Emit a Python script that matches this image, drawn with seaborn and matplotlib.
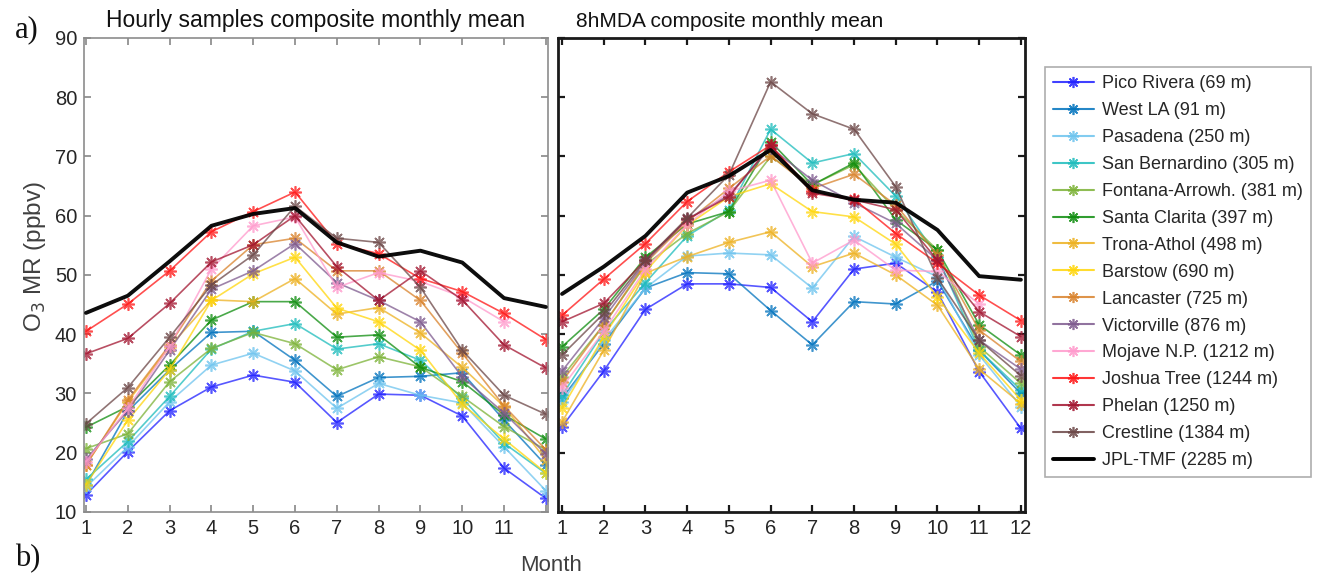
import numpy as np
import pandas as pd
import matplotlib
matplotlib.use("Agg")
import matplotlib.pyplot as plt
from matplotlib.lines import Line2D
import seaborn as sns

months = list(range(1, 13))

stations = [
    "Pico Rivera (69 m)", "West LA (91 m)", "Pasadena (250 m)",
    "San Bernardino (305 m)", "Fontana-Arrowh. (381 m)", "Santa Clarita (397 m)",
    "Trona-Athol (498 m)", "Barstow (690 m)", "Lancaster (725 m)",
    "Victorville (876 m)", "Mojave N.P. (1212 m)", "Joshua Tree (1244 m)",
    "Phelan (1250 m)", "Crestline (1384 m)", "JPL-TMF (2285 m)",
]

colors = [
    "#1f1fff", "#0072BD", "#6cc3ee", "#1cbcbc", "#7bb236", "#0d8c0d",
    "#EDB120", "#FFD60A", "#D9822B", "#7E5A8E", "#FF99CC", "#FF1414",
    "#A2142F", "#6B4646", "#000000",
]

nan = np.nan

# Hourly samples, composite monthly mean (ppbv)
hourly_pico_rivera = [12.9, 20.2, 27.1, 31.1, 33.1, 31.9, 25.1, 29.9, 29.7, 26.2, 17.4, 12.3]
hourly_west_la = [14.5, 27.0, 34.0, 40.3, 40.5, 35.6, 29.5, 32.7, 32.9, 33.5, 25.5, 17.9]
hourly_pasadena = [14.2, 21.0, 28.6, 34.8, 36.8, 33.8, 27.5, 31.7, 29.7, 28.4, 21.0, 13.6]
hourly_san_bernardino = [15.5, 21.9, 29.5, 37.5, 40.5, 41.8, 37.5, 38.4, 35.6, 29.2, 21.6, 16.5]
hourly_fontana = [20.7, 23.2, 32.0, 37.6, 40.3, 38.4, 34.0, 36.2, 34.5, 29.5, 24.4, 20.5]
hourly_santa_clarita = [24.3, 27.8, 34.8, 42.4, 45.5, 45.5, 39.5, 39.9, 34.4, 32.0, 26.4, 22.3]
hourly_trona = [18.0, 28.6, 37.9, 45.8, 45.5, 49.4, 43.4, 44.5, 40.2, 34.4, 27.8, 18.8]
hourly_barstow = [14.6, 25.5, 34.0, 45.7, 50.2, 53.0, 44.4, 42.1, 37.3, 28.2, 22.3, 16.6]
hourly_lancaster = [17.9, 28.9, 38.2, 49.0, 55.1, 56.2, 50.7, 50.7, 45.7, 36.8, 27.9, 20.5]
hourly_victorville = [18.9, 27.1, 37.3, 47.6, 50.7, 55.3, 48.7, 45.7, 42.1, 32.8, 26.7, 19.8]
hourly_mojave = [18.5, 27.5, 38.0, 51.0, 58.3, 59.8, 47.9, 50.4, 48.9, 46.3, 42.1, nan]
hourly_joshua_tree = [40.5, 45.1, 50.7, 57.3, 60.7, 64.0, 55.3, 53.6, 49.4, 47.2, 43.5, 39.1]
hourly_phelan = [36.7, 39.3, 45.2, 52.2, 55.1, 60.0, 51.4, 45.7, 50.7, 45.8, 38.2, 34.3]
hourly_crestline = [24.9, 31.0, 39.5, 48.3, 53.4, 61.6, 56.2, 55.5, 47.9, 37.3, 29.7, 26.5]
hourly_jpl = [43.6, 46.5, 52.3, 58.3, 60.3, 61.3, 55.5, 53.1, 54.1, 52.1, 46.1, 44.6]

# 8-hour maximum daily average, composite monthly mean (ppbv)
mda8_pico_rivera = [24.4, 33.8, 44.2, 48.5, 48.5, 47.9, 42.1, 51.0, 52.0, 47.1, 33.7, 24.1]
mda8_west_la = [29.2, 38.4, 47.8, 50.4, 50.2, 44.0, 38.2, 45.5, 45.1, 49.0, 37.3, 30.0]
mda8_pasadena = [28.5, 39.0, 47.8, 53.2, 53.7, 53.4, 47.8, 56.5, 53.0, 49.7, 36.5, 27.8]
mda8_san_bernardino = [29.7, 40.4, 48.7, 56.6, 60.9, 74.6, 68.9, 70.5, 63.3, 53.1, 37.3, 30.6]
mda8_fontana = [32.8, 41.6, 51.7, 57.0, 60.7, 70.0, 65.2, 68.6, 61.0, 54.2, 37.9, 31.7]
mda8_santa_clarita = [37.9, 44.2, 53.0, 58.6, 60.7, 72.5, 65.2, 68.9, 59.3, 54.2, 41.6, 36.5]
mda8_trona = [25.2, 37.3, 50.3, 53.1, 55.5, 57.3, 51.4, 53.7, 50.0, 44.9, 34.1, 28.3]
mda8_barstow = [27.5, 39.6, 50.6, 58.4, 63.2, 65.4, 60.7, 59.8, 55.2, 46.3, 36.8, 28.9]
mda8_lancaster = [32.0, 41.6, 52.0, 59.0, 64.6, 70.1, 64.6, 67.0, 61.8, 53.4, 40.7, 35.4]
mda8_victorville = [33.8, 42.7, 52.2, 59.4, 63.5, 71.5, 66.0, 62.2, 58.7, 52.5, 39.0, 34.1]
mda8_mojave = [31.0, 40.5, 51.0, 58.5, 64.1, 66.0, 52.0, 55.9, 50.8, 50.6, 45.1, nan]
mda8_joshua_tree = [43.2, 49.3, 55.3, 62.4, 67.4, 71.9, 64.1, 62.8, 57.0, 52.0, 46.6, 42.3]
mda8_phelan = [42.1, 45.2, 52.5, 59.4, 63.2, 71.9, 63.8, 62.7, 61.0, 52.5, 43.8, 39.6]
mda8_crestline = [36.5, 43.5, 52.5, 59.6, 66.9, 82.6, 77.2, 74.6, 64.9, 49.5, 39.0, 33.0]
mda8_jpl = [46.8, 51.4, 56.6, 63.9, 66.7, 71.1, 64.3, 62.7, 62.2, 57.6, 49.8, 49.2]

hourly = [hourly_pico_rivera, hourly_west_la, hourly_pasadena, hourly_san_bernardino,
          hourly_fontana, hourly_santa_clarita, hourly_trona, hourly_barstow,
          hourly_lancaster, hourly_victorville, hourly_mojave, hourly_joshua_tree,
          hourly_phelan, hourly_crestline, hourly_jpl]
mda8 = [mda8_pico_rivera, mda8_west_la, mda8_pasadena, mda8_san_bernardino,
        mda8_fontana, mda8_santa_clarita, mda8_trona, mda8_barstow,
        mda8_lancaster, mda8_victorville, mda8_mojave, mda8_joshua_tree,
        mda8_phelan, mda8_crestline, mda8_jpl]

y_ticks = [10, 20, 30, 40, 50, 60, 70, 80, 90]

sns.set_theme(style="ticks")
plt.rcParams["font.family"] = ["Liberation Sans", "DejaVu Sans"]

fig = plt.figure(figsize=(13.29, 5.78), dpi=100)
ax1 = fig.add_axes([0.0632, 0.1142, 0.3491, 0.8201])
ax2 = fig.add_axes([0.4199, 0.1142, 0.3514, 0.8201])

asterisk = (8, 2, 0)


def draw_panel(ax, series):
    for name, col, vals in zip(stations, colors, series):
        df = pd.DataFrame({"month": months, "o3": vals}).dropna()
        if name.startswith("JPL"):
            sns.lineplot(data=df, x="month", y="o3", ax=ax, color=col,
                         lw=2.8, alpha=0.95, legend=False, zorder=3)
        else:
            sns.lineplot(data=df, x="month", y="o3", ax=ax, color=col,
                         lw=1.2, alpha=0.75, marker=asterisk, markersize=9,
                         markeredgewidth=1.2, markeredgecolor=col,
                         legend=False, zorder=2)
    ax.set_ylim(10, 90)
    ax.set_yticks(y_ticks)
    ax.set_xticks(months)
    ax.set_xlabel("")
    ax.set_ylabel("")
    ax.tick_params(direction="in", top=True, right=True, length=5,
                   labelsize=14.5, colors="#262626", pad=5)


draw_panel(ax1, hourly)
draw_panel(ax2, mda8)

ax1.set_xlim(0.952, 12.05)
ax2.set_xlim(0.904, 12.1)

ax1.set_xticklabels([str(m) for m in months[:-1]] + [""])
ax2.set_yticklabels([])
ax2.set_xticklabels([str(m) for m in months])

for sp in ax1.spines.values():
    sp.set_color("#8c8c8c")
    sp.set_linewidth(1.2)
for sp in ax2.spines.values():
    sp.set_color("#1a1a1a")
    sp.set_linewidth(2.0)
ax1.tick_params(color="#8c8c8c")
ax2.tick_params(color="#1a1a1a", width=1.6)

ax1.set_ylabel("O$_3$ MR (ppbv)", fontsize=17.5, color="#404040")
ax1.yaxis.set_label_coords(-0.078, 0.54)

ax1.set_title("Hourly samples composite monthly mean", fontsize=16.5,
              color="#111111", pad=8)
fig.text(0.549, 0.962, "8hMDA composite monthly mean", fontsize=15,
         color="#111111", ha="center", va="center")
fig.text(0.415, 0.022, "Month", fontsize=16, color="#404040",
         ha="center", va="center")

fig.text(0.011, 0.936, "a)", fontsize=22, family="Liberation Serif", color="#111111")
fig.text(0.011, 0.020, "b)", fontsize=22, family="Liberation Serif", color="#111111")

handles = []
for name, col in zip(stations, colors):
    if name.startswith("JPL"):
        handles.append(Line2D([], [], color=col, lw=2.8))
    else:
        handles.append(Line2D([], [], color=col, lw=1.5, marker=asterisk,
                              markersize=8, markeredgewidth=1.2, alpha=0.85))
leg = fig.legend(handles, stations, loc="upper left",
                 bbox_to_anchor=(0.786, 0.884), frameon=True, fontsize=13,
                 handlelength=2.3, handletextpad=0.45, labelspacing=0.55,
                 borderpad=0.45, fancybox=False, borderaxespad=0)
leg.get_frame().set_edgecolor("#9a9a9a")
leg.get_frame().set_linewidth(1.2)

fig.savefig("out.png", dpi=100)
